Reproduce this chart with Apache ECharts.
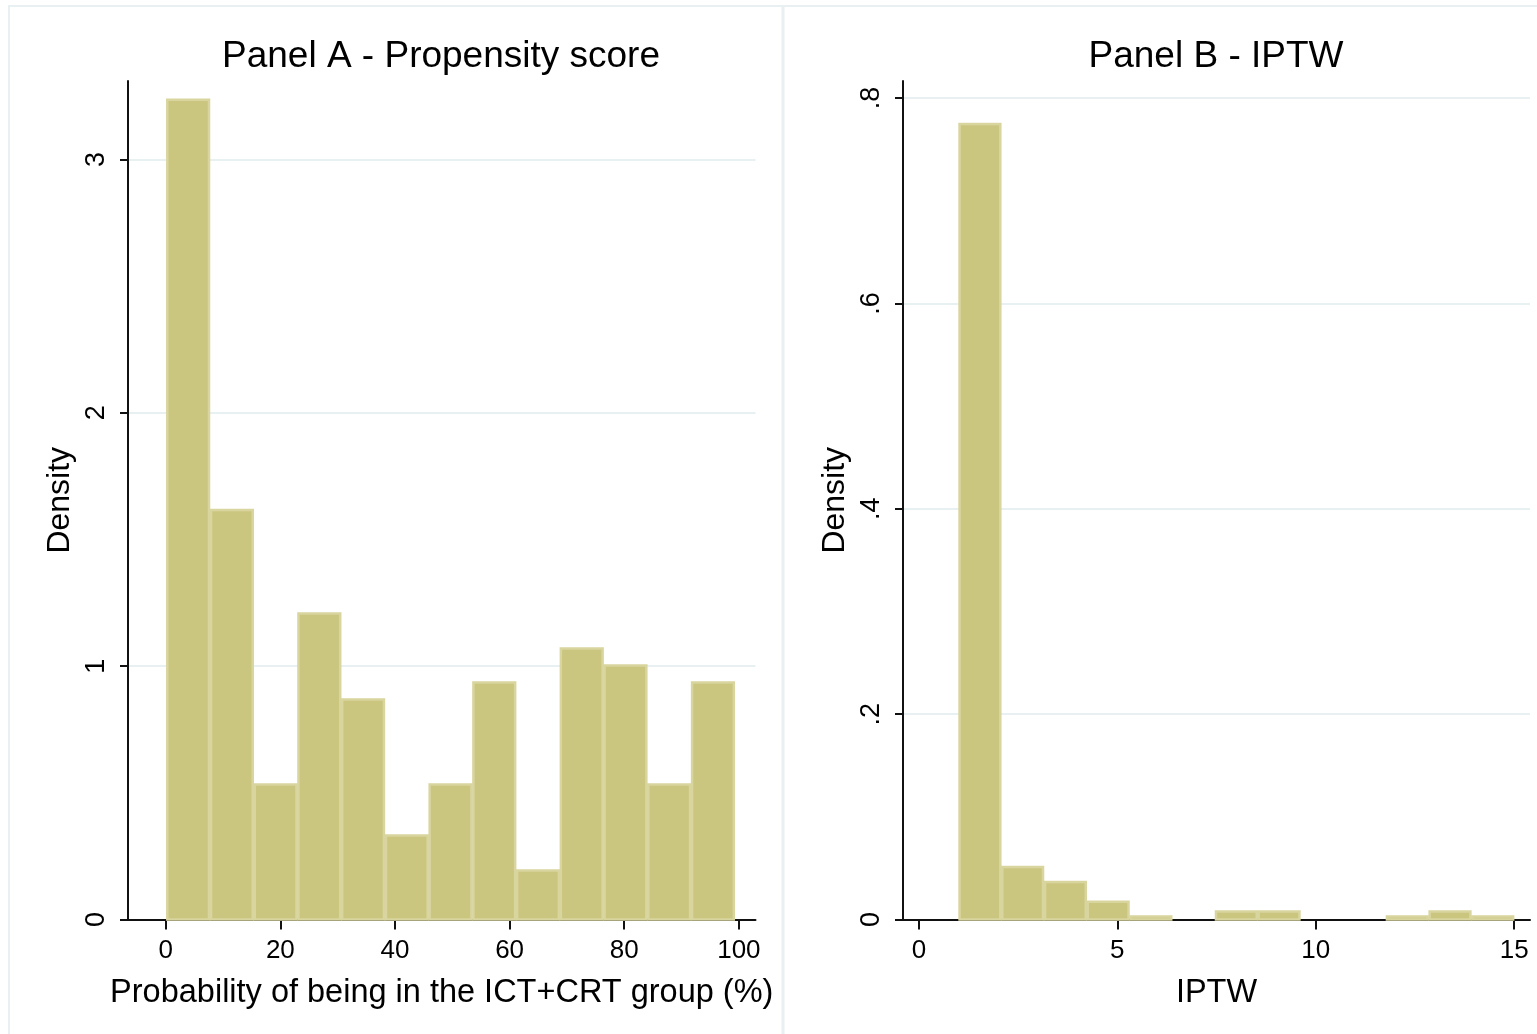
<!DOCTYPE html>
<html>
<head>
<meta charset="utf-8">
<title>Propensity score and IPTW distributions</title>
<script src="https://cdn.jsdelivr.net/npm/echarts@6/dist/echarts.min.js"></script>
<style>
  html, body { margin: 0; padding: 0; background: #ffffff; }
  #chart { width: 1537px; height: 1034px; }
</style>
</head>
<body>
<div id="chart"></div>
<script>
// Panel A: histogram of propensity scores (%), 13 equal-width bins
const psBinStart = 0.1;
const psBinWidth = 7.63;
const psDensity = [3.24, 1.62, 0.537, 1.212, 0.872, 0.336, 0.537, 0.94, 0.197, 1.074, 1.007, 0.537, 0.94];
const psTicksX = [0, 20, 40, 60, 80, 100];
const psTicksY = [0, 1, 2, 3];

// Panel B: histogram of inverse probability of treatment weights, 13 bins
const iptwBinStart = 1.0;
const iptwBinWidth = 14 / 13;
const iptwDensity = [0.7757, 0.0522, 0.0376, 0.0182, 0.0039, 0, 0.0088, 0.0088, 0, 0, 0.0039, 0.0088, 0.0039];
const iptwTicksX = [0, 5, 10, 15];
const iptwTicksY = [0, 0.2, 0.4, 0.6, 0.8];

const FONT = "'Liberation Sans', Arial, Helvetica, sans-serif";
const BAR_FILL = '#cbc67f';
const BAR_EDGE = '#d9d59f';
const GRID_LINE = '#e9f0f2';

function binsFrom(start, width, dens) {
  return dens.map((d, i) => [start + i * width, start + (i + 1) * width, d]);
}

function histSeries(idx, bins) {
  return {
    type: 'custom',
    xAxisIndex: idx,
    yAxisIndex: idx,
    data: bins,
    encode: { x: [0, 1], y: 2 },
    renderItem: function (params, api) {
      const lo = api.value(0), hi = api.value(1), d = api.value(2);
      if (d <= 0) return null;
      const p0 = api.coord([lo, d]);
      const p1 = api.coord([hi, 0]);
      return {
        type: 'rect',
        shape: { x: p0[0] + 1, y: p0[1] + 1, width: p1[0] - p0[0] - 2, height: p1[1] - p0[1] - 1 },
        style: { fill: BAR_FILL, stroke: BAR_EDGE, lineWidth: 2.5 }
      };
    }
  };
}

function fmtDecimal(v) {
  if (v === 0) return '0';
  return String(+v.toFixed(1)).replace(/^0\./, '.');
}

function xAxis(idx, min, max, ticks, name) {
  return {
    type: 'value', gridIndex: idx, min: min, max: max,
    name: name, nameLocation: 'middle', nameGap: 57,
    nameTextStyle: { fontFamily: FONT, fontSize: 32.5, color: '#000' },
    axisLine: { show: true, onZero: false, lineStyle: { color: '#111', width: 2 } },
    axisTick: { show: true, length: 10, customValues: ticks, lineStyle: { color: '#111', width: 2 } },
    axisLabel: { customValues: ticks, margin: 18, fontFamily: FONT, fontSize: 26, color: '#000' },
    splitLine: { show: false }
  };
}

function yAxis(idx, max, ticks, fmt) {
  return {
    type: 'value', gridIndex: idx, min: 0, max: max,
    name: 'Density', nameLocation: 'middle', nameRotate: 90, nameGap: 52,
    nameTextStyle: { fontFamily: FONT, fontSize: 32, color: '#000' },
    axisLine: { show: true, onZero: false, lineStyle: { color: '#111', width: 2 } },
    axisTick: { show: true, length: 8, customValues: ticks, lineStyle: { color: '#111', width: 2 } },
    axisLabel: { customValues: ticks, rotate: 90, margin: 18, fontFamily: FONT, fontSize: 27, color: '#000', formatter: fmt },
    splitLine: { show: true, lineStyle: { color: GRID_LINE, width: 2 } }
  };
}

const chart = echarts.init(document.getElementById('chart'), null, { renderer: 'canvas' });

chart.setOption({
  animation: false,
  backgroundColor: '#ffffff',
  title: [
    { text: 'Panel A - Propensity score', left: 436, top: 33, textAlign: 'center',
      textStyle: { fontFamily: FONT, fontSize: 37, fontWeight: 'normal', color: '#000' } },
    { text: 'Panel B - IPTW', left: 1211, top: 33, textAlign: 'center',
      textStyle: { fontFamily: FONT, fontSize: 37, fontWeight: 'normal', color: '#000' } }
  ],
  graphic: [
    // light frame around the two panels
    { type: 'line', shape: { x1: 8, y1: 6, x2: 1537, y2: 6 }, style: { stroke: GRID_LINE, lineWidth: 2 }, silent: true },
    { type: 'line', shape: { x1: 9, y1: 6, x2: 9, y2: 1034 }, style: { stroke: GRID_LINE, lineWidth: 2 }, silent: true },
    { type: 'line', shape: { x1: 783, y1: 6, x2: 783, y2: 1034 }, style: { stroke: GRID_LINE, lineWidth: 3 }, silent: true }
  ],
  grid: [
    { left: 128, right: 781.5, top: 81, bottom: 114.5, containLabel: false },
    { left: 903, right: 7, top: 81, bottom: 114.5, containLabel: false }
  ],
  xAxis: [
    xAxis(0, -6.58, 102.9, psTicksX, 'Probability of being in the ICT+CRT group (%)'),
    xAxis(1, -0.40, 15.40, iptwTicksX, 'IPTW')
  ],
  yAxis: [
    yAxis(0, 3.31, psTicksY, v => String(v)),
    yAxis(1, 0.8166, iptwTicksY, fmtDecimal)
  ],
  series: [
    histSeries(0, binsFrom(psBinStart, psBinWidth, psDensity)),
    histSeries(1, binsFrom(iptwBinStart, iptwBinWidth, iptwDensity))
  ]
});
</script>
</body>
</html>
